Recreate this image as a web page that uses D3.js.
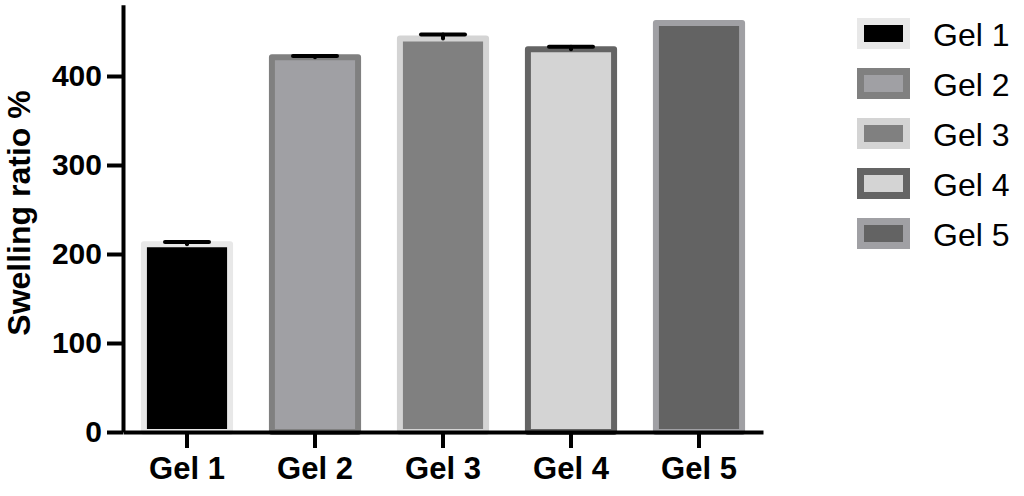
<!DOCTYPE html>
<html>
<head>
<meta charset="utf-8">
<script src="https://cdn.jsdelivr.net/npm/d3@7"></script>
<style>
  body { margin: 0; background: #fff; }
  svg { display: block; font-family: "Liberation Sans", Arial, sans-serif; }
</style>
</head>
<body>
<svg class="board" width="1024" height="496"></svg>
<script>
var categories = ['Gel 1', 'Gel 2', 'Gel 3', 'Gel 4', 'Gel 5'];
var means = [211, 421, 442, 430, 459.5];
var sds = [2.5, 1.5, 4.5, 3, 0];
var fills = ['#000000', '#a0a0a4', '#808080', '#d4d4d4', '#636363'];
var borders = ['#e8e8e8', '#808080', '#d4d4d4', '#646464', '#a0a0a4'];
var yTicks = [0, 100, 200, 300, 400];

var svg = d3.select('.board');

var x = d3.scaleBand().domain(categories).range([123, 763])
  .paddingInner(0.28).paddingOuter(0.14);
var y = d3.scaleLinear().domain([0, 480]).range([432, 4.8]);

var rows = categories.map(function (c, i) {
  return { name: c, mean: means[i], sd: sds[i], fill: fills[i], border: borders[i] };
});

// bars, border drawn as a centred stroke
svg.append('g').selectAll('rect').data(rows).enter().append('rect')
  .attr('x', d => x(d.name) + 3)
  .attr('y', d => y(d.mean))
  .attr('width', x.bandwidth() - 6)
  .attr('height', d => y(0) - y(d.mean))
  .attr('fill', d => d.fill)
  .attr('stroke', d => d.border)
  .attr('stroke-width', 6)
  .attr('stroke-linejoin', 'round');

// error bars (upper only)
var err = svg.append('g').attr('stroke', '#000').attr('stroke-width', 4).attr('stroke-linecap', 'round')
  .selectAll('g').data(rows.filter(d => d.sd > 0)).enter().append('g');
err.append('line')
  .attr('x1', d => x(d.name) + x.bandwidth() / 2)
  .attr('x2', d => x(d.name) + x.bandwidth() / 2)
  .attr('y1', d => y(d.mean))
  .attr('y2', d => y(d.mean + d.sd));
err.append('line')
  .attr('x1', d => x(d.name) + x.bandwidth() / 2 - 22)
  .attr('x2', d => x(d.name) + x.bandwidth() / 2 + 22)
  .attr('y1', d => y(d.mean + d.sd))
  .attr('y2', d => y(d.mean + d.sd));

// axes
var yAxis = svg.append('g').attr('transform', 'translate(123,0)')
  .call(d3.axisLeft(y).tickValues(yTicks).tickSize(16).tickSizeOuter(0).tickPadding(5));
var xAxis = svg.append('g').attr('transform', 'translate(0,432)')
  .call(d3.axisBottom(x).tickSize(16).tickSizeOuter(0).tickPadding(9));

[yAxis, xAxis].forEach(function (g) {
  g.selectAll('path, line').attr('stroke', '#000').attr('stroke-width', 4);
  g.selectAll('text').attr('fill', '#000').attr('font-weight', 'bold')
    .attr('font-family', '"Liberation Sans", Arial, sans-serif');
});
yAxis.selectAll('text').attr('font-size', 30);
xAxis.selectAll('text').attr('font-size', 31);

svg.append('text')
  .attr('transform', 'translate(30,213) rotate(-90)')
  .attr('text-anchor', 'middle')
  .attr('font-size', 32)
  .attr('font-weight', 'bold')
  .text('Swelling ratio %');

// legend
var legend = svg.append('g').selectAll('g').data(rows).enter().append('g')
  .attr('transform', (d, i) => 'translate(857,' + (18 + i * 50) + ')');
legend.append('rect')
  .attr('x', 3.5).attr('y', 3.5).attr('width', 46).attr('height', 24)
  .attr('fill', d => d.fill)
  .attr('stroke', d => d.border)
  .attr('stroke-width', 7);
legend.append('text')
  .attr('x', 76).attr('y', 27.5)
  .attr('font-size', 32)
  .text(d => d.name);
</script>
</body>
</html>
